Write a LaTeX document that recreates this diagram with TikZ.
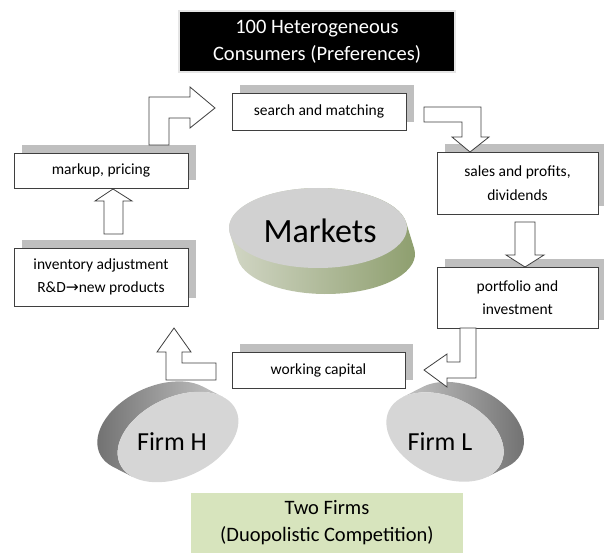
\documentclass[tikz,border=0pt]{standalone}
\usepackage{fontspec}
\setmainfont{Carlito}
\newfontfamily\arrowfont{DejaVu Sans}
\usetikzlibrary{shadows}
\definecolor{boxline}{HTML}{3F3F3F}
\definecolor{shadowgray}{HTML}{BFBFBF}
\definecolor{marketface}{HTML}{D1D1D1}
\definecolor{marketsideA}{HTML}{D4D8C8}
\definecolor{marketsideB}{HTML}{8C9D6C}
\definecolor{firmface}{HTML}{D6D6D6}
\definecolor{firmsideA}{HTML}{6E6E6E}
\definecolor{firmsideB}{HTML}{C4C4C4}
\definecolor{duogreen}{HTML}{D7E4BD}

\begin{document}
\begin{tikzpicture}[x=1pt, y=1pt,
	stagebox/.style={draw=boxline, line width=0.9pt, fill=white, rectangle, inner sep=0pt, outer sep=0pt, align=center, font=\fontsize{15.5}{23.5}\selectfont, general shadow={fill=shadowgray, shadow xshift=8pt, shadow yshift=8pt}},
	blockarrow/.style={draw=boxline, line width=0.8pt, fill=white, line join=miter},
	titlebox/.style={rectangle, inner sep=0pt, outer sep=0pt, align=center, font=\fontsize{20.5}{27}\selectfont}]
	\useasboundingbox (0,0) rectangle (604,-553);

	% markets disc
	\begin{scope}[shift={(318,-228)}]
		\shade[left color=marketsideA, right color=marketsideB] (187.9:89 and 40) -- ++(8,-26) arc[start angle=187.9, end angle=367.9, x radius=89, y radius=40] -- (7.9:89 and 40) arc[start angle=7.9, end angle=187.9, x radius=89, y radius=40] -- cycle;
		\fill[marketface] (0,0) ellipse[x radius=89, y radius=40];
	\end{scope}
	\node[font=\fontsize{34}{40}\selectfont] (markets) at (320,-231) {Markets};

	% firm discs
	\begin{scope}[shift={(178,-437)}, rotate=25]
		\shade[left color=firmsideA, right color=firmsideB] (205.9:64 and 40) -- ++(-14,18) arc[start angle=205.9, end angle=25.9, x radius=64, y radius=40] -- (25.9:64 and 40) arc[start angle=25.9, end angle=205.9, x radius=64, y radius=40] -- cycle;
		\fill[firmface] (0,0) ellipse[x radius=64, y radius=40];
	\end{scope}
	\begin{scope}[shift={(445,-437)}, rotate=-25]
		\shade[left color=firmsideB, right color=firmsideA] (153.4:62 and 40) -- ++(14,18) arc[start angle=153.4, end angle=-26.6, x radius=62, y radius=40] -- (-26.6:62 and 40) arc[start angle=-26.6, end angle=153.4, x radius=62, y radius=40] -- cycle;
		\fill[firmface] (0,0) ellipse[x radius=62, y radius=40];
	\end{scope}
	\node[font=\fontsize{26}{30}\selectfont] (firmH) at (172,-442) {Firm H};
	\node[font=\fontsize{26}{30}\selectfont] (firmL) at (440,-442) {Firm L};

	\node[titlebox, fill=black, text=white, draw=gray!20, line width=2.5pt, minimum width=276pt, minimum height=61pt] (consumers) at (317,-41.5) {100 Heterogeneous\\Consumers (Preferences)};
	\node[titlebox, fill=duogreen, minimum width=272pt, minimum height=60pt] (duopoly) at (327,-523) {Two Firms\\(Duopolistic Competition)};

	\node[stagebox, minimum width=174pt, minimum height=37pt] (search) at (319,-111.5) {search and matching};
	\node[stagebox, minimum width=161pt, minimum height=62pt] (sales) at (517.5,-183) {sales and profits,\\dividends};
	\node[stagebox, minimum width=161pt, minimum height=61pt] (portfolio) at (517.5,-297.5) {portfolio and\\investment};
	\node[stagebox, minimum width=173pt, minimum height=36pt] (wcap) at (318.5,-370) {working capital};
	\node[stagebox, minimum width=174pt, minimum height=58pt] (inventory) at (101,-277) {inventory adjustment\\R\&D{\arrowfont →}new products};
	\node[stagebox, minimum width=174pt, minimum height=35pt] (markup) at (101,-170.5) {markup, pricing};

	% block arrows
	\draw[blockarrow, shift={(markup.north)}] (48,8) -- (48,56) -- (89,56) -- (89,66) -- (114,45) -- (89,25) -- (89,35) -- (68,35) -- (68,8) -- cycle;
	\draw[blockarrow, shift={(search.east)}] (18,4.5) -- (75,4.5) -- (75,-25.5) -- (83,-25.5) -- (64,-40.5) -- (46,-25.5) -- (56,-25.5) -- (56,-10.5) -- (18,-10.5) -- cycle;
	\draw[blockarrow, shift={(sales.south)}] (-2.5,-8) -- (17.5,-8) -- (17.5,-41) -- (26.5,-41) -- (7.5,-53) -- (-11.5,-41) -- (-2.5,-41) -- cycle;
	\draw[blockarrow, shift={(portfolio.south)}] (-57.5,0) -- (-41.5,0) -- (-41.5,-50) -- (-70.5,-50) -- (-70.5,-59) -- (-93.5,-42) -- (-70.5,-26) -- (-70.5,-34) -- (-57.5,-34) -- cycle;
	\draw[blockarrow, shift={(wcap.west)}] (-16,7) -- (-16,-10) -- (-66,-10) -- (-66,18) -- (-75,18) -- (-58,42) -- (-41,18) -- (-50,18) -- (-50,7) -- cycle;
	\draw[blockarrow, shift={(markup.south)}] (3,-46) -- (3,-13) -- (-6,-13) -- (12,-1) -- (31,-13) -- (22,-13) -- (22,-46) -- cycle;
\end{tikzpicture}
\end{document}
